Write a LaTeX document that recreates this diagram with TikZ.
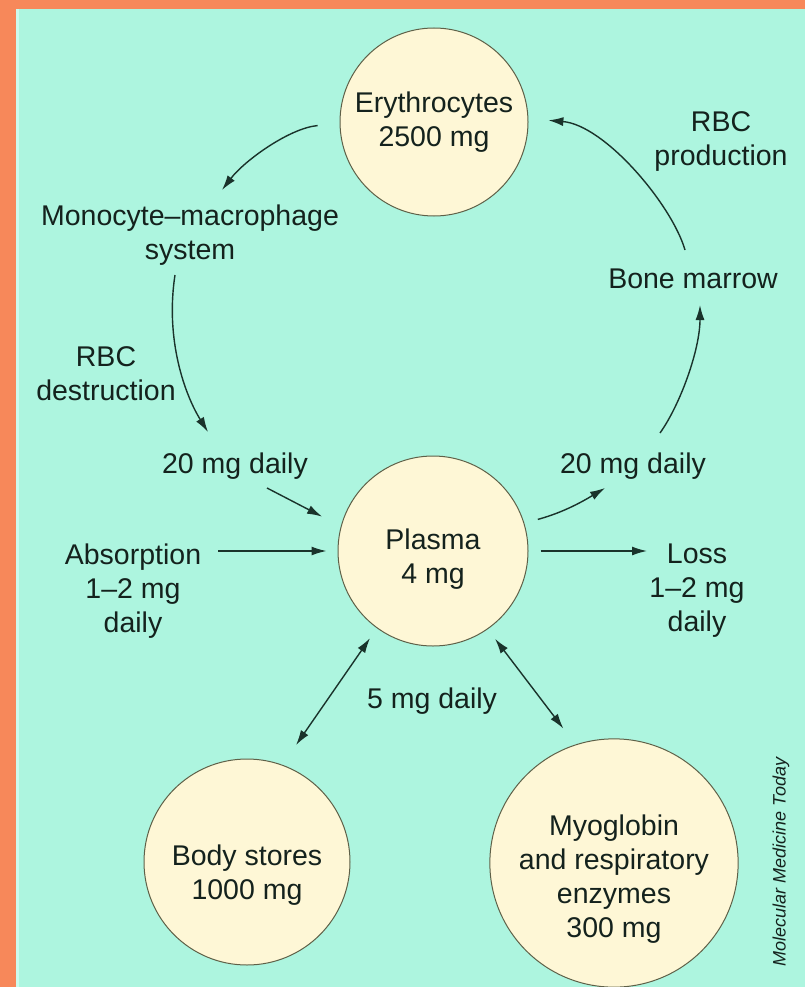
\documentclass[tikz,border=0pt]{standalone}
\usepackage{fontspec}
\setmainfont{Liberation Sans}
\usetikzlibrary{arrows.meta}
\definecolor{bgmint}{HTML}{ADF5DF}
\definecolor{bandorange}{HTML}{F7885A}
\definecolor{palestrip}{HTML}{CCFBEE}
\definecolor{cream}{HTML}{FEF7D6}
\definecolor{ring}{HTML}{5E6048}
\definecolor{txt}{HTML}{14221D}
\definecolor{arrowc}{HTML}{1A332B}
\begin{document}
\begin{tikzpicture}[x=1pt,y=-1pt,
  lbl/.style={font=\fontsize{28.5}{34}\selectfont, text=txt, align=center, inner sep=0pt},
  pool/.style={circle, draw=ring, line width=1pt, fill=cream, inner sep=0pt, minimum size=#1, lbl},
  arr/.style={draw=arrowc, line width=1.4pt, -{Latex[length=15pt,width=9pt]}},
  dbl/.style={draw=arrowc, line width=1.4pt, {Latex[length=15pt,width=9pt]}-{Latex[length=15pt,width=9pt]}}]
\useasboundingbox (0,0) rectangle (805,987);
\fill[bgmint] (0,0) rectangle (805,987);
\fill[bandorange] (0,0) rectangle (16,987);
\fill[bandorange] (0,0) rectangle (805,9);
\fill[palestrip] (16,9) rectangle (19,987);

% pools
\node[pool=188] (ery) at (434,122) {Erythrocytes\\2500 mg};
\node[pool=190] (plasma) at (433,551) {\rule{0pt}{37pt}Plasma\\4 mg};
\node[pool=206] (body) at (247,862) {\rule{0pt}{46pt}Body stores\\1000 mg};
\node[pool=212] (myo) at (614,863) {\rule{0pt}{53pt}Myoglobin\\and respiratory\\enzymes\\300 mg};

% labels
\node[lbl] (mono) at (190,235) {Monocyte--macrophage\\system};
\node[lbl] (destr) at (106,374) {RBC\\destruction};
\node[lbl] (left20) at (235,466) {20 mg daily};
\node[lbl] (absorb) at (133,591) {Absorption\\1--2 mg\\daily};
\node[lbl] (right20) at (633,466) {20 mg daily};
\node[lbl] (marrow) at (693,279) {Bone marrow};
\node[lbl] (prod) at (721,142) {RBC\\production};
\node[lbl] (loss) at (697,591) {Loss\\1--2 mg\\daily};
\node[lbl] (five) at (432,701) {5 mg daily};
\node[rotate=90, font=\fontsize{18}{21}\selectfont\itshape, text=txt, inner sep=0pt] (credit) at (781,862) {Molecular Medicine Today};

% free ends
\coordinate (monoIn) at (222,190);
\coordinate (destrS) at (175,275);
\coordinate (destrE) at (208,432);
\coordinate (l20S) at (267,488);
\coordinate (absS) at (218,551);
\coordinate (lossE) at (647,551);
\coordinate (r20E) at (605,488);
\coordinate (bmUpS) at (660,433);
\coordinate (bmUpE) at (700,305);
\coordinate (bmS) at (685,250);

% connectors
\draw[arr, shorten <=22pt] (ery.181) .. controls (290,128) and (245,160) .. (monoIn);
\draw[arr] (destrS) .. controls (165,340) and (185,395) .. (destrE);
\draw[arr, shorten >=21pt] (l20S) -- (plasma.165);
\draw[arr, shorten >=11pt] (absS) -- (plasma.180);
\draw[arr, shorten <=12pt] (plasma.0) -- (lossE);
\draw[arr, shorten <=14pt] (plasma.17) .. controls (565,512) and (585,500) .. (r20E);
\draw[arr] (bmUpS) .. controls (680,405) and (700,350) .. (bmUpE);
\draw[arr, shorten >=20pt] (bmS) .. controls (672,205) and (605,125) .. (ery.2);
\draw[dbl, shorten <=12pt, shorten >=24pt] (plasma.234) -- (body.70);
\draw[dbl, shorten <=12pt, shorten >=20pt] (plasma.305.5) -- (myo.108.4);
\end{tikzpicture}
\end{document}
